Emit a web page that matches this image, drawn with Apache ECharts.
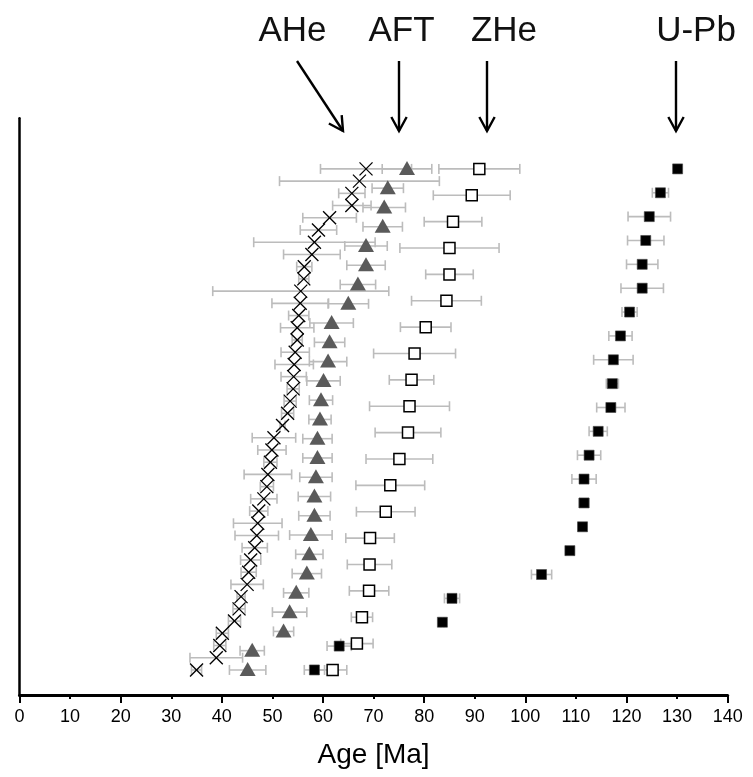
<!DOCTYPE html>
<html><head><meta charset="utf-8">
<script src="https://cdn.jsdelivr.net/npm/echarts@6/dist/echarts.min.js"></script>
<style>html,body{margin:0;padding:0;background:#fff}#c{width:753px;height:777px}</style>
</head><body><div id="c"></div>
<script>
// Ages [Ma] ordered from the top of the plot (oldest) to the bottom, with 1-sigma errors
const aheAges = [68.5, 67.2, 65.7, 65.7, 61.3, 59.1, 58.3, 57.8, 56.3, 56.2, 55.6, 55.5, 55.2, 54.9, 54.9, 54.5, 54.3, 54.2, 54.1, 53.5, 53.0, 52.0, 50.3, 49.9, 49.6, 49.1, 48.9, 48.3, 47.3, 47.1, 46.9, 46.5, 45.7, 45.3, 45.0, 43.8, 43.4, 42.5, 40.1, 39.6, 38.9, 35.0];
const aheErr  = [9, 15.8, 2.6, 3.8, 5.3, 3.6, 12, 5.6, 1.5, 1, 17.4, 5.6, 2, 3.3, 1, 2.8, 3.8, 2.5, 1.2, 1.2, 1.2, 0.5, 4.3, 2.8, 1.3, 4.7, 1.3, 2.6, 1.8, 4.8, 4.3, 2.5, 2, 1.5, 3.2, 0.8, 1.2, 1.2, 1.2, 1.2, 5.2, 1];
const aftAges = [76.6, 72.8, 72.1, 71.8, 68.5, 68.5, 66.9, 65.0, 61.7, 61.3, 61.0, 60.1, 59.6, 59.4, 58.9, 58.9, 58.6, 58.3, 58.3, 57.6, 57.3, 56.8, 54.7, 53.4, 52.2, 46.0, 45.1];
const aftErr  = [4.9, 3.1, 4.2, 3.9, 4.2, 3.8, 3.5, 4.0, 4.3, 3.0, 3.7, 3.3, 2.3, 2.2, 2.9, 2.9, 3.2, 3.2, 3.1, 4.2, 2.7, 2.9, 2.5, 3.4, 2.0, 2.4, 3.6];
const zheAges = [90.9, 89.4, 85.7, 85.0, 85.0, 84.4, 80.3, 78.1, 77.5, 77.1, 76.8, 75.1, 73.3, 72.4, 69.3, 69.2, 69.1, 67.7, 66.7, 61.9];
const zheErr  = [8.0, 7.6, 5.7, 9.8, 4.7, 6.9, 5.0, 8.1, 4.4, 7.9, 6.5, 6.6, 6.8, 5.8, 4.8, 4.4, 3.9, 2.1, 3.2, 2.8];
const upbAges = [130.1, 126.7, 124.5, 123.8, 123.1, 123.1, 120.6, 118.8, 117.4, 117.2, 116.9, 114.4, 112.6, 111.6, 111.6, 111.3, 108.8, 103.2, 85.5, 83.6, 63.2, 58.3];
const upbErr  = [0.3, 1.6, 4.2, 3.6, 3.1, 4.2, 1.5, 2.3, 3.9, 1.2, 2.8, 1.8, 2.3, 2.4, 1.0, 0.8, 0.8, 2.0, 1.5, 0.3, 2.4, 2.0];
const methodLabels = ['AHe', 'AFT', 'ZHe', 'U-Pb'];
const axisTitle = 'Age [Ma]';

const FONT = "'Liberation Sans', Arial, sans-serif";

// rank plotting position: top sample = 1, bottom sample = 0
function toRows(ages, errs) {
  const n = ages.length;
  return ages.map((a, k) => [a, 1 - k / (n - 1), errs[k]]);
}

function errSeries(rows) {
  return {
    type: 'custom', data: rows, z: 1, clip: false, encode: {x: 0, y: 1},
    renderItem: function (params, api) {
      const v = api.value(0), y = api.value(1), e = api.value(2);
      const p1 = api.coord([v - e, y]), p2 = api.coord([v + e, y]);
      const cap = 5;
      const st = {stroke: '#bcbcbc', lineWidth: 1.6};
      return {type: 'group', children: [
        {type: 'line', shape: {x1: p1[0], y1: p1[1], x2: p2[0], y2: p2[1]}, style: st},
        {type: 'line', shape: {x1: p1[0], y1: p1[1] - cap, x2: p1[0], y2: p1[1] + cap}, style: st},
        {type: 'line', shape: {x1: p2[0], y1: p2[1] - cap, x2: p2[0], y2: p2[1] + cap}, style: st}
      ]};
    }
  };
}

function markSeries(rows, kind) {
  return {
    type: 'custom', data: rows, z: 3, clip: false, encode: {x: 0, y: 1},
    renderItem: function (params, api) {
      const p = api.coord([api.value(0), api.value(1)]);
      const x = p[0], y = p[1];
      if (kind === 'cross') {
        const h = 6.5;
        const st = {stroke: '#000', lineWidth: 1.3};
        return {type: 'group', children: [
          {type: 'line', shape: {x1: x - h, y1: y - h, x2: x + h, y2: y + h}, style: st},
          {type: 'line', shape: {x1: x - h, y1: y + h, x2: x + h, y2: y - h}, style: st}
        ]};
      }
      if (kind === 'tri') {
        return {type: 'polygon', shape: {points: [[x, y - 8], [x - 8, y + 6], [x + 8, y + 6]]},
          style: {fill: '#5a5a5a'}};
      }
      if (kind === 'open') {
        return {type: 'rect', shape: {x: x - 5.5, y: y - 5.5, width: 11, height: 11},
          style: {fill: '#fff', stroke: '#000', lineWidth: 1.5}};
      }
      return {type: 'rect', shape: {x: x - 5, y: y - 5, width: 10, height: 10},
        style: {fill: '#000', stroke: '#444', lineWidth: 0.6}};
    }
  };
}

const ahe = toRows(aheAges, aheErr), aft = toRows(aftAges, aftErr),
      zhe = toRows(zheAges, zheErr), upb = toRows(upbAges, upbErr);

function arrow(x1, y1, x2, y2) {
  const dx = x2 - x1, dy = y2 - y1, L = Math.sqrt(dx * dx + dy * dy);
  const ux = dx / L, uy = dy / L, hl = 16, a = 0.5;
  const c = Math.cos(a), s = Math.sin(a);
  const w1 = [x2 - hl * (ux * c - uy * s), y2 - hl * (uy * c + ux * s)];
  const w2 = [x2 - hl * (ux * c + uy * s), y2 - hl * (uy * c - ux * s)];
  const st = {stroke: '#000', lineWidth: 2.4, fill: null};
  return [
    {type: 'line', shape: {x1: x1, y1: y1, x2: x2, y2: y2}, style: st},
    {type: 'polyline', shape: {points: [w1, [x2, y2], w2]}, style: st}
  ];
}

const chart = echarts.init(document.getElementById('c'), null, {renderer: 'canvas'});
chart.setOption({
  animation: false,
  backgroundColor: '#fff',
  grid: {left: 19.5, right: 25.3, top: 118.3, bottom: 82, containLabel: false},
  xAxis: [{
    type: 'value', min: 0, max: 140, interval: 10, position: 'bottom',
    axisLine: {show: true, onZero: false, lineStyle: {color: '#000', width: 3}},
    axisTick: {show: true, length: 4, lineStyle: {color: '#000', width: 2}},
    axisLabel: {color: '#000', fontSize: 18, fontFamily: FONT, margin: 13},
    splitLine: {show: false},
    name: axisTitle, nameLocation: 'middle', nameGap: 46,
    nameTextStyle: {color: '#000', fontSize: 28, fontFamily: FONT}
  }, {
    type: 'value', min: 0, max: 140, interval: 20, position: 'bottom',
    axisLine: {show: false, onZero: false},
    axisTick: {show: true, length: 8, lineStyle: {color: '#000', width: 2}},
    axisLabel: {show: false}, splitLine: {show: false}
  }],
  yAxis: {
    type: 'value', min: -0.05, max: 1.101,
    axisLine: {show: true, onZero: false, lineStyle: {color: '#000', width: 2.5}},
    axisTick: {show: false}, axisLabel: {show: false}, splitLine: {show: false}
  },
  series: [
    errSeries(ahe), errSeries(aft), errSeries(zhe), errSeries(upb),
    markSeries(ahe, 'cross'), markSeries(aft, 'tri'), markSeries(zhe, 'open'), markSeries(upb, 'fill')
  ],
  graphic: [
    {type: 'text', x: 292.5, y: 31, style: {text: methodLabels[0], fontSize: 35, fontFamily: FONT, fill: '#111', align: 'center', verticalAlign: 'middle'}},
    {type: 'text', x: 401.5, y: 31, style: {text: methodLabels[1], fontSize: 35, fontFamily: FONT, fill: '#111', align: 'center', verticalAlign: 'middle'}},
    {type: 'text', x: 504, y: 31, style: {text: methodLabels[2], fontSize: 35, fontFamily: FONT, fill: '#111', align: 'center', verticalAlign: 'middle'}},
    {type: 'text', x: 696, y: 31, style: {text: methodLabels[3], fontSize: 35, fontFamily: FONT, fill: '#111', align: 'center', verticalAlign: 'middle'}}
  ].concat(arrow(297, 61, 343, 131), arrow(399, 61, 399, 131), arrow(487, 61, 487, 131), arrow(676, 61, 676, 131))
});
</script></body></html>
